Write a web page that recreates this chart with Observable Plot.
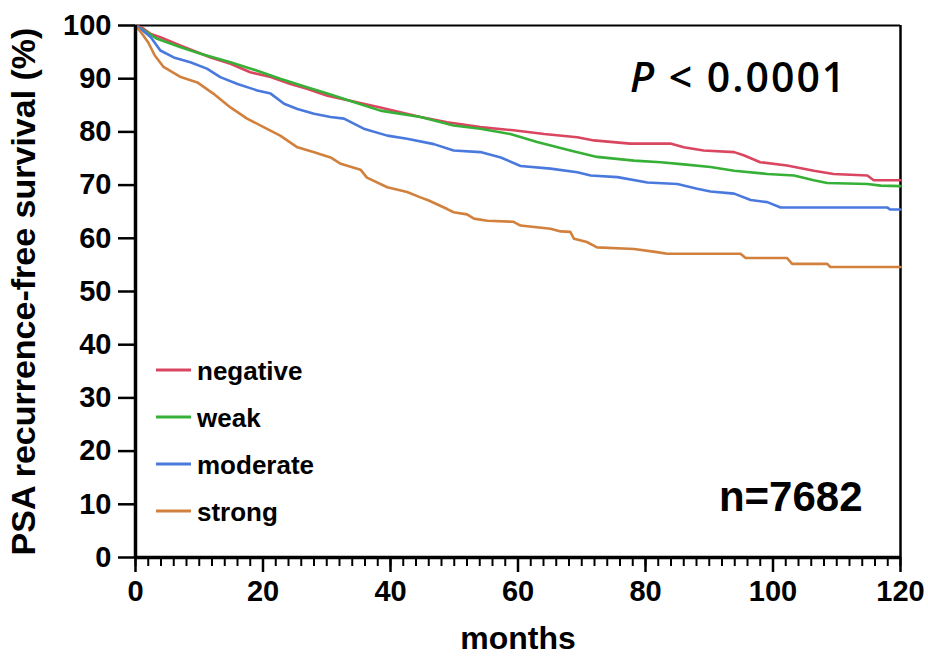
<!DOCTYPE html>
<html><head><meta charset="utf-8">
<script src="https://cdn.jsdelivr.net/npm/d3@7"></script>
<script src="https://cdn.jsdelivr.net/npm/@observablehq/plot@0.6"></script>
<style>body{margin:0;background:#fff}</style>
</head><body><div id="chart"></div>
<script>
// ---- data ----
const groups = ["negative", "weak", "moderate", "strong"];
const colors = ["#da4660", "#36b037", "#4a79de", "#d1813d"];

const negative = [[0,100],[1,99.6],[2.4,98.4],[3.9,97.8],[7.1,96.2],[11.8,94.0],[14.9,92.8],[18,91.2],[21.2,90.3],[24.3,89.0],[26.9,88.1],[30.1,86.8],[34.2,85.7],[38.4,84.6],[44.7,82.8],[48.9,81.8],[54.1,80.9],[59.3,80.3],[64.1,79.6],[69.3,79.0],[71.9,78.4],[77.6,77.8],[83.9,77.8],[86,77.1],[89.1,76.5],[93.9,76.2],[95.4,75.6],[98,74.3],[102.2,73.7],[106.4,72.7],[109.5,72.1],[114.8,71.8],[115.8,70.9],[120,70.9]];
const weak = [[0,100],[1,99.3],[3.4,97.5],[7.1,95.9],[10.2,94.7],[14.9,93.1],[19.1,91.5],[22.7,90.0],[26.9,88.4],[30.1,87.2],[34.2,85.6],[38.4,84.0],[44.7,82.8],[49.9,81.2],[54.1,80.6],[58.8,79.6],[63,78.1],[68.2,76.5],[72.4,75.3],[78.2,74.6],[82.4,74.3],[86,73.9],[90.2,73.4],[93.9,72.7],[99.1,72.1],[103.3,71.8],[106.4,70.9],[108.5,70.4],[114.8,70.2],[116.9,69.9],[120,69.8]];
const moderate = [[0,100],[1,99.2],[2.4,97.8],[3.9,95.3],[6,94.0],[8.6,93.1],[11.2,91.9],[13.3,90.3],[16,89.0],[19.1,87.8],[21.2,87.2],[23.3,85.3],[25.4,84.3],[28,83.4],[30.6,82.8],[32.7,82.5],[35.8,80.6],[39.5,79.3],[42.6,78.7],[46.8,77.7],[49.9,76.5],[54.1,76.2],[57.3,75.2],[60.4,73.6],[65.1,73.1],[69.3,72.4],[71.4,71.8],[75.6,71.5],[80.3,70.5],[85,70.2],[88.1,69.3],[90.2,68.8],[93.9,68.4],[96.5,67.2],[99.1,66.8],[101.2,65.8],[117.9,65.8],[118.4,65.4],[120,65.4]];
const strong = [[0,100],[1,98.5],[2,96.8],[3,94.4],[4.4,92.2],[7.1,90.3],[9.7,89.3],[12.2,87.2],[14.9,84.6],[17.5,82.5],[20.1,80.9],[22.7,79.3],[25.4,77.1],[27.9,76.2],[30.6,75.2],[32.2,74.0],[35.3,72.9],[36.3,71.4],[39.5,69.6],[42.6,68.7],[44.7,67.7],[46,67.1],[48.9,65.5],[49.9,64.9],[52,64.5],[53.1,63.7],[55.2,63.3],[59.3,63.1],[60.4,62.4],[65.1,61.8],[66.7,61.3],[68.2,61.2],[68.8,59.9],[70.8,59.3],[72.4,58.3],[78.2,58.0],[81.8,57.4],[83.4,57.1],[94.9,57.1],[95.7,56.3],[102.2,56.3],[103,55.2],[108.5,55.2],[109,54.6],[120,54.6]];

const xMajorTicks = [0, 20, 40, 60, 80, 100, 120];
const xMinorTicks = d3.range(0, 121, 2);
const yTicks = [0, 10, 20, 30, 40, 50, 60, 70, 80, 90, 100];
const xLabel = "months";
const yLabel = "PSA recurrence-free survival (%)";
const pText = "P";
const pRest = " < 0.0001";
const nText = "n=7682";

// ---- build table ----
const series = [negative, weak, moderate, strong];
const rows = series.flatMap((s, i) => s.map(([m, v]) => ({group: groups[i], month: m, surv: v})));

const FONT = "'Liberation Sans', Arial, Helvetica, sans-serif";

function legendMark(index, scales, values, dims) {
  const g = d3.create("svg:g");
  const x0 = dims.marginLeft + 21;
  const y0 = 370;
  const step = 47;
  groups.forEach((name, i) => {
    const y = y0 + i * step;
    g.append("line").attr("x1", x0).attr("x2", x0 + 35).attr("y1", y).attr("y2", y)
      .attr("stroke", colors[i]).attr("stroke-width", 3);
    g.append("text").attr("x", x0 + 41).attr("y", y + 10)
      .attr("text-anchor", "start")
      .attr("font-size", 26).attr("font-weight", "bold").attr("fill", "#000")
      .attr("font-family", FONT).text(name);
  });
  return g.node();
}

function pValueMark(index, scales, values, dims) {
  const t = d3.create("svg:text")
    .attr("x", dims.width - dims.marginRight - 270)
    .attr("y", dims.marginTop + 67)
    .attr("text-anchor", "start")
    .attr("font-family", "'Open Sans', sans-serif")
    .attr("font-weight", 600)
    .attr("font-size", 41)
    .attr("letter-spacing", 2)
    .attr("fill", "#000");
  t.append("tspan").attr("font-style", "italic").text(pText);
  t.append("tspan").text(pRest);
  return t.node();
}

const chart = Plot.plot({
  width: 928,
  height: 659,
  marginLeft: 135,
  marginRight: 28,
  marginTop: 25,
  marginBottom: 102,
  style: {fontFamily: FONT, fontWeight: "bold", background: "#fff", overflow: "visible"},
  x: {domain: [0, 120]},
  y: {domain: [0, 100]},
  color: {domain: groups, range: colors},
  marks: [
    Plot.ruleY([100], {stroke: "#000", strokeWidth: 2}),
    Plot.ruleX([120], {stroke: "#000", strokeWidth: 2.5}),
    Plot.line(rows, {x: "month", y: "surv", z: "group", stroke: "group", strokeWidth: 2.6, curve: "linear"}),
    Plot.axisY({ticks: yTicks, tickSize: 17, tickPadding: 7, strokeWidth: 2.5, fontSize: 29, label: null, tickFormat: d => String(d)}),
    Plot.axisX({ticks: xMinorTicks, tickSize: 9, strokeWidth: 2, text: null, label: null}),
    Plot.axisX({ticks: xMajorTicks, tickSize: 15, tickPadding: 8, strokeWidth: 2.5, fontSize: 29, label: null, tickFormat: d => String(d)}),
    Plot.ruleX([0], {stroke: "#000", strokeWidth: 3.5}),
    Plot.ruleY([0], {stroke: "#000", strokeWidth: 3.5}),
    Plot.text([yLabel], {frameAnchor: "left", dx: -111, rotate: -90, fontSize: 34, fontWeight: "bold", fill: "#000", lineAnchor: "middle", textAnchor: "middle"}),
    Plot.text([xLabel], {frameAnchor: "bottom", dy: 81, fontSize: 32, fontWeight: "bold", fill: "#000", lineAnchor: "middle"}),
    pValueMark,
    Plot.text([nText], {frameAnchor: "bottom-right", dx: -38, dy: -60, fontSize: 42, fontWeight: "bold", fontFamily: "'Liberation Sans Narrow', 'Arial Narrow', 'Liberation Sans', sans-serif", textAnchor: "end", lineAnchor: "middle", fill: "#000"}),
    legendMark
  ]
});
document.getElementById("chart").appendChild(chart);
</script>
</body></html>
